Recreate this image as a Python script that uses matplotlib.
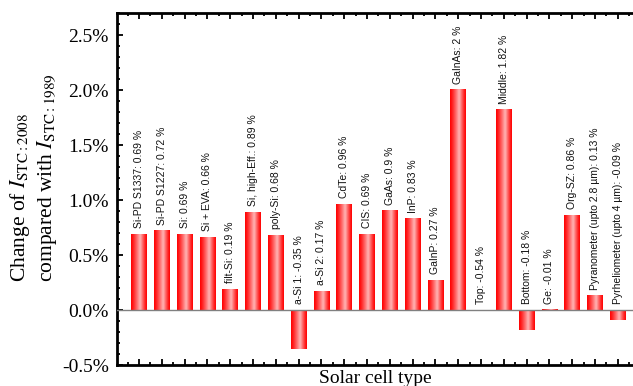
import numpy as np
import matplotlib
matplotlib.use("Agg")
from matplotlib import pyplot as plt
from matplotlib.ticker import MultipleLocator, FuncFormatter

plt.rcParams['font.family'] = ['Liberation Serif', 'DejaVu Serif']
plt.rcParams['mathtext.fontset'] = 'stix'

# cell types and change of Isc (%)
cells = ['Si-PD S1337', 'Si-PD S1227', 'Si', 'Si + EVA', 'filt-Si', 'Si, high-Eff.',
         'poly-Si', 'a-Si 1', 'a-Si 2', 'CdTe', 'CIS', 'GaAs', 'InP', 'GaInP',
         'GaInAs', 'Top', 'Middle', 'Bottom', 'Ge', 'Org-SZ',
         'Pyranometer (upto 2.8 \u00b5m)', 'Pyrheliometer (upto 4 \u00b5m)']
values = [0.69, 0.72, 0.69, 0.66, 0.19, 0.89, 0.68, -0.35, 0.17, 0.96, 0.69, 0.9,
          0.83, 0.27, 2.0, -0.54, 1.82, -0.18, -0.01, 0.86, 0.13, -0.09]
value_text = ['0.69', '0.72', '0.69', '0.66', '0.19', '0.89', '0.68', '-0.35', '0.17',
              '0.96', '0.69', '0.9', '0.83', '0.27', '2', '-0.54', '1.82', '-0.18',
              '-0.01', '0.86', '0.13', '-0.09']
# the "Top" bar is not drawn in the original
has_bar = [True] * 15 + [False] + [True] * 6

fig = plt.figure(figsize=(6.33, 3.86), dpi=100)
ax = fig.add_axes([0.185, 0.054, 0.815, 0.912])

x = np.arange(len(cells))
heights = [v if b else 0 for v, b in zip(values, has_bar)]
bars = ax.bar(x, heights, width=0.68, color='none', edgecolor='none')

# cylinder-like shading: red edges, light pink near the middle
t = np.linspace(0, 1, 64)
a = np.where(t < 0.58, t / 0.58, (1 - t) / 0.42) ** 1.2 * 0.72
grad = np.zeros((1, len(t), 3))
grad[0, :, 0] = 1.0
grad[0, :, 1] = a
grad[0, :, 2] = a
for rect, b in zip(bars, has_bar):
    if not b:
        continue
    x0 = rect.get_x()
    w = rect.get_width()
    h = rect.get_height()
    ax.imshow(grad, extent=[x0, x0 + w, min(0, h), max(0, h)], aspect='auto',
              interpolation='bicubic', zorder=2)

ax.axhline(0, color='#808080', lw=1.0, zorder=3)

for xi, name, v, vt in zip(x, cells, values, value_text):
    ax.annotate(f'{name}: {vt} %', (xi, max(v, 0)), xytext=(0, 4.5),
                textcoords='offset points', rotation=90, ha='center', va='bottom',
                fontsize=7.5, family=['Liberation Sans', 'DejaVu Sans'], color='#111111')

ax.set_xlim(-0.96, 21.67)
ax.set_ylim(-0.5, 2.7)

ax.yaxis.set_major_locator(MultipleLocator(0.5))
ax.yaxis.set_minor_locator(MultipleLocator(0.1))
ax.yaxis.set_major_formatter(FuncFormatter(lambda v, p: f'{v:.1f}%'))
ax.xaxis.set_major_locator(MultipleLocator(1))
ax.xaxis.set_minor_locator(MultipleLocator(0.5))

ax.tick_params(axis='both', which='both', direction='in', top=True, bottom=True,
               left=True, right=False, width=1.3)
ax.tick_params(which='major', length=4.5)
ax.tick_params(which='minor', length=2)
ax.tick_params(axis='x', which='both', labelbottom=False)
ax.tick_params(axis='y', labelsize=14, pad=6)

for s in ['left', 'top', 'bottom']:
    ax.spines[s].set_linewidth(2)
ax.spines['right'].set_visible(False)

fig.text(20 / 633, 0.27, r'Change of $I_{\mathrm{STC:2008}}$', rotation=90,
         ha='center', va='bottom', fontsize=15.5)
fig.text(47 / 633, 0.27, r'compared with $I_{\mathrm{STC:1989}}$', rotation=90,
         ha='center', va='bottom', fontsize=15.5)
fig.text(375 / 633, 0.041, 'Solar cell type', ha='center', va='top', fontsize=14)

fig.savefig('out.png', dpi=100)
